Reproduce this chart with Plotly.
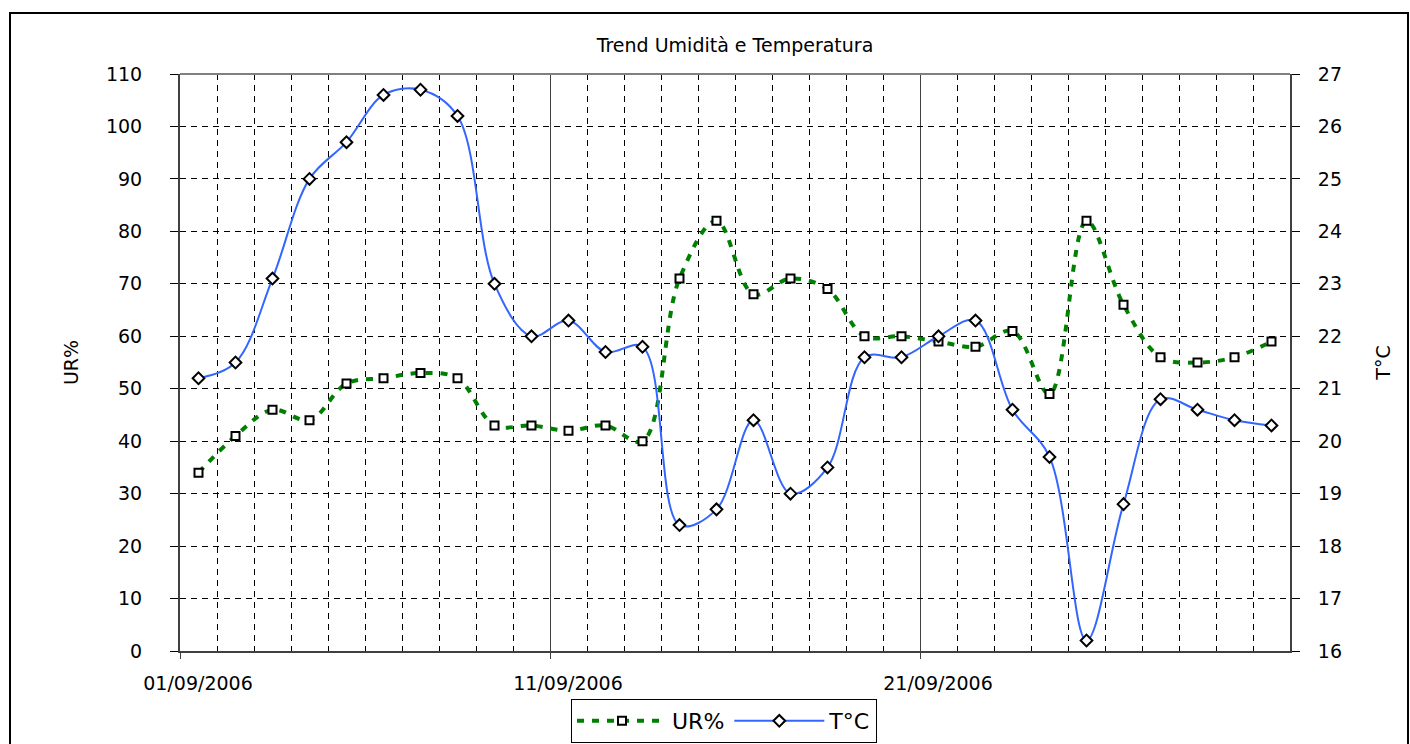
import plotly.graph_objects as go
import pandas as pd

# ---- data ----
dates = pd.date_range("2006-09-01 12:00", periods=30, freq="D")
ur = [34, 41, 46, 44, 51, 52, 53, 52, 43, 43, 42, 43, 40, 71, 82,
      68, 71, 69, 60, 60, 59, 58, 61, 49, 82, 66, 56, 55, 56, 59]
temp = [21.2, 21.5, 23.1, 25.0, 25.7, 26.6, 26.7, 26.2, 23.0, 22.0,
        22.3, 21.7, 21.8, 18.4, 18.7, 20.4, 19.0, 19.5, 21.6, 21.6,
        22.0, 22.3, 20.6, 19.7, 16.2, 18.8, 20.8, 20.6, 20.4, 20.3]
xticks = ["2006-09-01", "2006-09-11", "2006-09-21"]
xticklabels = ["01/09/2006", "11/09/2006", "21/09/2006"]

FONT = "DejaVu Sans, Liberation Sans, Arial, sans-serif"
DAY = 86400000
W, H = 1410, 744
L, R, T, B = 180, 1290, 74, 651
PW, PH = R - L, B - T

fig = go.Figure()
fig.add_trace(go.Scatter(
    x=dates, y=ur, name="UR%", mode="lines+markers",
    line=dict(color="#008000", width=4, dash="7px,8px", shape="spline", smoothing=1),
    marker=dict(symbol="square", size=8, color="white", line=dict(width=2, color="black")),
))
fig.add_trace(go.Scatter(
    x=dates, y=temp, name="T°C", mode="lines+markers", yaxis="y2",
    line=dict(color="#3366FF", width=2, shape="spline", smoothing=1),
    marker=dict(symbol="diamond", size=9, color="white", line=dict(width=2, color="black")),
))

fig.update_layout(
    width=W, height=H,
    margin=dict(l=L, r=W - R, t=T, b=H - B, autoexpand=False),
    paper_bgcolor="white", plot_bgcolor="white",
    font=dict(family=FONT, size=18, color="black"),
    title=dict(text="Trend Umidità e Temperatura", x=(L + R) / 2 / W, xanchor="center",
               y=1 - 45 / H, yanchor="middle", yref="container",
               font=dict(size=19, family=FONT, color="black")),
    showlegend=True,
    legend=dict(orientation="h", x=((563 + 885) / 2 - L) / PW, xanchor="center",
                y=-(743 - B) / PH, yanchor="bottom",
                bordercolor="black", borderwidth=1, bgcolor="white",
                font=dict(size=22, family=FONT), tracegroupgap=0, itemwidth=90),
    xaxis=dict(
        type="date", range=["2006-09-01", "2006-10-01"],
        tickmode="array", tickvals=xticks, ticktext=xticklabels,
        ticklabelshift=18, ticklabelstandoff=8,
        ticks="outside", ticklen=6, tickcolor="#404040",
        showline=True, linecolor="#404040", linewidth=2, mirror=False,
        showgrid=True, gridcolor="#404040", gridwidth=1,
        minor=dict(dtick=DAY, tick0="2006-09-01", showgrid=True, gridcolor="black",
                   griddash="6px,5px", gridwidth=1),
        zeroline=False, tickfont=dict(size=19),
    ),
    yaxis=dict(
        range=[0, 110], dtick=10, tick0=0,
        ticks="outside", ticklen=8, tickcolor="black",
        ticklabelstandoff=24,
        showline=True, linecolor="#404040", linewidth=2,
        showgrid=True, gridcolor="black", griddash="6px,5px", gridwidth=1,
        zeroline=False,
        title=dict(text="UR%", standoff=22, font=dict(size=19)),
        tickfont=dict(size=19),
    ),
    yaxis2=dict(
        range=[16, 27], dtick=1, tick0=16, overlaying="y", side="right",
        ticks="outside", ticklen=8, tickcolor="black",
        ticklabelstandoff=14,
        showline=True, linecolor="#404040", linewidth=2,
        showgrid=False, zeroline=False,
        title=dict(text="T°C", standoff=36, font=dict(size=19)),
        tickfont=dict(size=19),
    ),
)

# plot-area top border and outer chart frame
fig.add_shape(type="line", xref="paper", yref="paper", x0=0, x1=1, y0=1, y1=1,
              line=dict(color="#808080", width=2))
fig.add_shape(type="rect", xref="paper", yref="paper",
              x0=(10 - L) / PW, x1=(1408 - L) / PW,
              y0=-(760 - B) / PH, y1=1 + (T - 13) / PH,
              line=dict(color="black", width=2), layer="below")

fig.write_html("out.html", config={"displayModeBar": False},
               post_script="document.body.style.margin='0';")
